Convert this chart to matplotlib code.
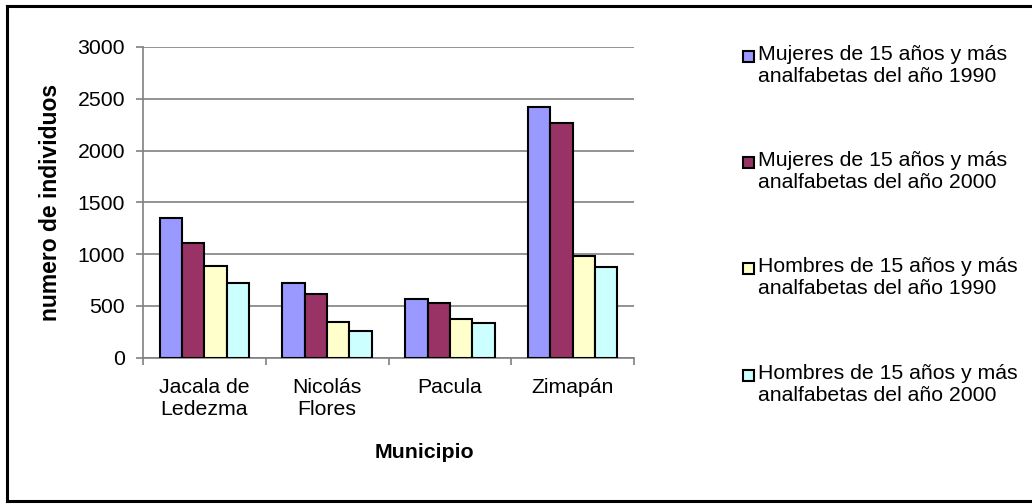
import matplotlib
matplotlib.use("Agg")
import matplotlib.pyplot as plt
from matplotlib.patches import Rectangle
from matplotlib.lines import Line2D
import numpy as np

plt.rcParams['font.family'] = ['Liberation Sans', 'DejaVu Sans']

categories = ["Jacala de\nLedezma", "Nicolás\nFlores", "Pacula", "Zimapán"]
series_names = [
    "Mujeres de 15 años y más\nanalfabetas del año 1990",
    "Mujeres de 15 años y más\nanalfabetas del año 2000",
    "Hombres de 15 años y más\nanalfabetas del año 1990",
    "Hombres de 15 años y más\nanalfabetas del año 2000",
]
mujeres_1990 = [1345, 720, 565, 2420]
mujeres_2000 = [1110, 613, 523, 2265]
hombres_1990 = [884, 342, 368, 981]
hombres_2000 = [719, 255, 332, 877]
series_values = [mujeres_1990, mujeres_2000, hombres_1990, hombres_2000]
colors = ["#9999FF", "#993366", "#FFFFCC", "#CCFFFF"]
yticks = [0, 500, 1000, 1500, 2000, 2500, 3000]

W, H = 1032, 504
fs = 15.3
fig = plt.figure(figsize=(W / 100, H / 100), dpi=100)
ax = fig.add_axes([143 / W, 1 - 357.5 / H, (634 - 143) / W, (357.5 - 47) / H])

n = len(series_values)
x = np.arange(len(categories))
group = 0.728
bw = group / n
for i, vals in enumerate(series_values):
    ax.bar(x - group / 2 + bw * (i + 0.5), vals, width=bw, color=colors[i],
           edgecolor="black", linewidth=1.5, zorder=3)

ax.set_xlim(-0.5, len(categories) - 0.5)
ax.set_ylim(0, 3000)
ax.set_yticks(yticks)
ax.set_yticklabels([str(v) for v in yticks], fontsize=fs)
ax.yaxis.grid(True, color="#808080", linewidth=1.2, zorder=0)
for s in ["top", "right"]:
    ax.spines[s].set_visible(False)
for s in ["left", "bottom"]:
    ax.spines[s].set_color("#808080")
    ax.spines[s].set_linewidth(1.2)
ax.tick_params(axis="y", direction="out", length=5, width=1.2, color="#808080", pad=8)
ax.set_xticks(np.arange(len(categories) + 1) - 0.5)
ax.set_xticklabels([])
ax.tick_params(axis="x", direction="out", length=5, width=1.2, color="#808080")
for xi, lab in zip(x, categories):
    ax.text(xi, -0.066, lab, transform=ax.get_xaxis_transform(), ha="center", va="top",
            fontsize=fs, linespacing=1.17)

fig.text(51 / W, 1 - 202 / H, "numero de individuos", rotation=90, ha="center", va="center",
         fontsize=16.5, fontweight="bold")
fig.text(424 / W, 1 - 453 / H, "Municipio", ha="center", va="center",
         fontsize=15.4, fontweight="bold")

# legend
leg_y = [56.5, 162.5, 268.5, 375]
for name, c, yc in zip(series_names, colors, leg_y):
    fig.patches.append(Rectangle((743 / W, 1 - (yc + 5.5) / H), 11 / W, 11 / H,
                                 transform=fig.transFigure, facecolor=c,
                                 edgecolor="black", linewidth=1.5))
    fig.text(758 / W, 1 - (yc - 11) / H, name, ha="left", va="top", fontsize=fs,
             linespacing=1.17)

# outer border (right side is cut off)
bl = dict(color="black", linewidth=2.2, transform=fig.transFigure)
fig.lines.append(Line2D([7 / W, 1.0], [1 - 6 / H, 1 - 6 / H], **bl))
fig.lines.append(Line2D([7 / W, 7 / W], [1 - 6 / H, 1 - 501 / H], **bl))
fig.lines.append(Line2D([7 / W, 1.0], [1 - 501 / H, 1 - 501 / H], **bl))

fig.savefig("out.png", dpi=100)
